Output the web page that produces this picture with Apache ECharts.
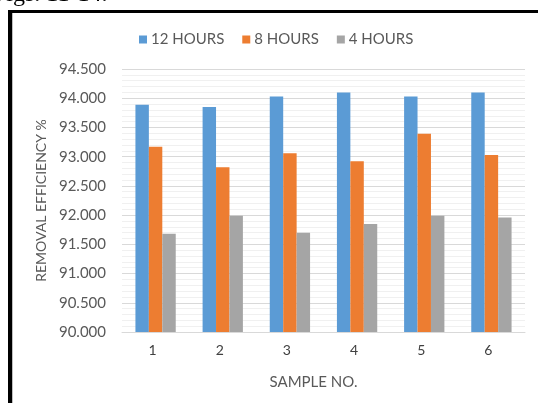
<!DOCTYPE html>
<html>
<head>
<meta charset="utf-8">
<script src="https://cdn.jsdelivr.net/npm/echarts@6/dist/echarts.min.js"></script>
<style>
  html, body { margin: 0; padding: 0; background: #fff; }
  #chart { width: 538px; height: 403px; }
</style>
</head>
<body>
<div id="chart"></div>
<script>
  // data
  const categories = ['1', '2', '3', '4', '5', '6']
  const seriesNames = ['12 HOURS', '8 HOURS', '4 HOURS']
  const hours12 = [93.89, 93.85, 94.03, 94.10, 94.03, 94.10]
  const hours8 = [93.17, 92.82, 93.06, 92.92, 93.39, 93.03]
  const hours4 = [91.68, 91.99, 91.70, 91.85, 91.99, 91.96]
  const colors = ['#5b9bd5', '#ed7d31', '#a5a5a5']

  const font = 'Lato, "Open Sans", sans-serif'
  const myChart = echarts.init(document.getElementById('chart'))

  function barSeries(name, data, color) {
    return {
      name: name,
      type: 'bar',
      data: data,
      itemStyle: { color: color },
      barGap: '0%',
      barCategoryGap: '40%'
    }
  }

  const option = {
    animation: false,
    textStyle: { fontFamily: font },
    legend: {
      top: 27,
      left: 134,
      itemWidth: 8,
      itemHeight: 8,
      itemGap: 18,
      icon: 'rect',
      textStyle: { color: '#595959', fontSize: 15, fontFamily: font, padding: [0, 0, 0, -1] }
    },
    grid: { left: 122, right: 13, top: 69, bottom: 71 },
    xAxis: {
      type: 'category',
      data: categories,
      name: 'SAMPLE NO.',
      nameLocation: 'middle',
      nameGap: 43,
      nameTextStyle: { color: '#595959', fontSize: 15, fontFamily: font, padding: [0, 20, 0, 0] },
      axisLine: { lineStyle: { color: '#d9d9d9' } },
      axisTick: { show: false },
      axisLabel: { color: '#404040', fontSize: 14, margin: 11, padding: [0, 6, 0, 0] }
    },
    yAxis: {
      type: 'value',
      min: 90,
      max: 94.5,
      interval: 0.5,
      name: 'REMOVAL EFFICIENCY %',
      nameLocation: 'middle',
      nameGap: 72,
      nameTextStyle: { color: '#595959', fontSize: 14, fontFamily: font },
      axisLine: { show: false },
      axisTick: { show: false },
      axisLabel: {
        color: '#595959',
        fontSize: 15,
        margin: 16,
        formatter: v => v.toFixed(3)
      },
      splitLine: { lineStyle: { color: '#d9d9d9' } },
      minorTick: { show: false, splitNumber: 5 },
      minorSplitLine: { show: true, lineStyle: { color: '#f0f0f0' } }
    },
    series: [
      barSeries(seriesNames[0], hours12, colors[0]),
      barSeries(seriesNames[1], hours8, colors[1]),
      barSeries(seriesNames[2], hours4, colors[2])
    ],
    graphic: [
      // page text cut off above the figure
      {
        type: 'text',
        left: -7,
        top: -17,
        style: {
          text: 'Figs. 11-14.',
          font: '24px "Liberation Serif", serif',
          fill: '#000'
        }
      },
      // frame of the figure
      { type: 'rect', shape: { x: 8, y: 10, width: 530, height: 3 }, style: { fill: '#000' } },
      { type: 'rect', shape: { x: 8, y: 10, width: 4, height: 393 }, style: { fill: '#000' } },
      { type: 'rect', shape: { x: 12, y: 13, width: 1, height: 390 }, style: { fill: '#bfbfbf' } }
    ]
  }
  myChart.setOption(option)
</script>
</body>
</html>
